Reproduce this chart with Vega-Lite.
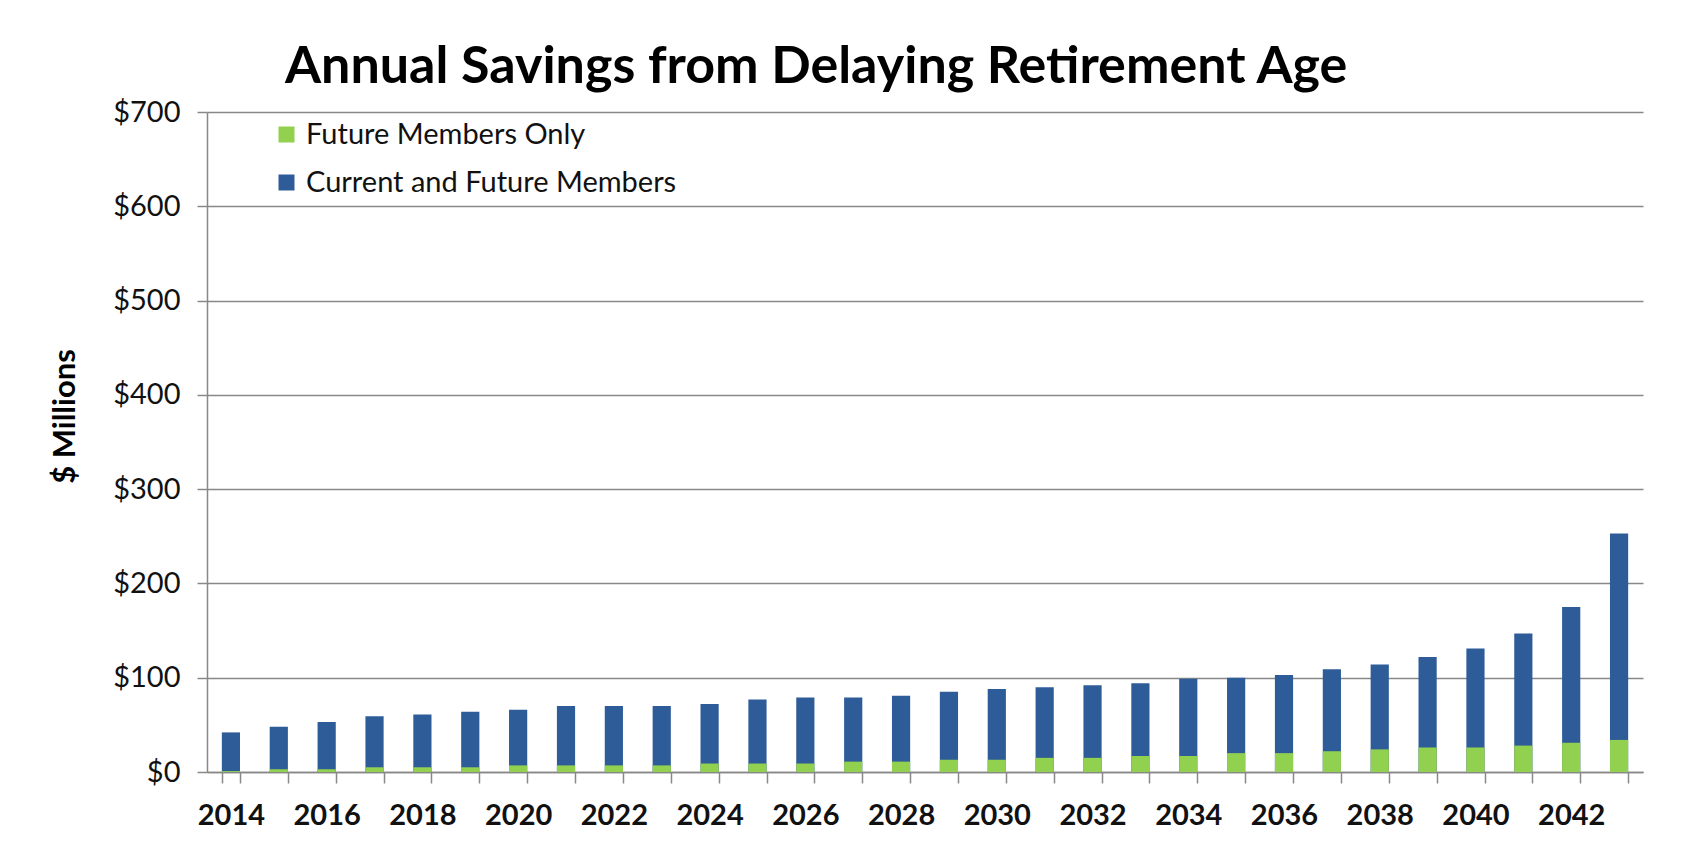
{
  "$schema": "https://vega.github.io/schema/vega-lite/v6.json",
  "description": "Annual Savings from Delaying Retirement Age",
  "autosize": {"type": "none"},
  "padding": {"left": 207, "top": 112, "right": 53, "bottom": 89},
  "width": 1436,
  "height": 660,
  "background": "white",
  "title": {
    "text": "Annual Savings from Delaying Retirement Age",
    "anchor": "start",
    "frame": "group",
    "dx": 78,
    "dy": 61,
    "offset": 24,
    "baseline": "alphabetic",
    "font": "Lato",
    "fontSize": 52,
    "fontWeight": "bold",
    "color": "#000000"
  },
  "config": {
    "view": {"stroke": null},
    "font": "Lato"
  },
  "data": {
    "values": [
      {"year": 2014, "series": "Current and Future Members", "value": 42},
      {"year": 2015, "series": "Current and Future Members", "value": 48},
      {"year": 2016, "series": "Current and Future Members", "value": 53},
      {"year": 2017, "series": "Current and Future Members", "value": 59},
      {"year": 2018, "series": "Current and Future Members", "value": 61},
      {"year": 2019, "series": "Current and Future Members", "value": 64},
      {"year": 2020, "series": "Current and Future Members", "value": 66},
      {"year": 2021, "series": "Current and Future Members", "value": 70},
      {"year": 2022, "series": "Current and Future Members", "value": 70},
      {"year": 2023, "series": "Current and Future Members", "value": 70},
      {"year": 2024, "series": "Current and Future Members", "value": 72},
      {"year": 2025, "series": "Current and Future Members", "value": 77},
      {"year": 2026, "series": "Current and Future Members", "value": 79},
      {"year": 2027, "series": "Current and Future Members", "value": 79},
      {"year": 2028, "series": "Current and Future Members", "value": 81},
      {"year": 2029, "series": "Current and Future Members", "value": 85},
      {"year": 2030, "series": "Current and Future Members", "value": 88},
      {"year": 2031, "series": "Current and Future Members", "value": 90},
      {"year": 2032, "series": "Current and Future Members", "value": 92},
      {"year": 2033, "series": "Current and Future Members", "value": 94},
      {"year": 2034, "series": "Current and Future Members", "value": 99},
      {"year": 2035, "series": "Current and Future Members", "value": 100},
      {"year": 2036, "series": "Current and Future Members", "value": 103},
      {"year": 2037, "series": "Current and Future Members", "value": 109},
      {"year": 2038, "series": "Current and Future Members", "value": 114},
      {"year": 2039, "series": "Current and Future Members", "value": 122},
      {"year": 2040, "series": "Current and Future Members", "value": 131},
      {"year": 2041, "series": "Current and Future Members", "value": 147},
      {"year": 2042, "series": "Current and Future Members", "value": 175},
      {"year": 2043, "series": "Current and Future Members", "value": 253},
      {"year": 2014, "series": "Future Members Only", "value": 1},
      {"year": 2015, "series": "Future Members Only", "value": 3},
      {"year": 2016, "series": "Future Members Only", "value": 3},
      {"year": 2017, "series": "Future Members Only", "value": 5},
      {"year": 2018, "series": "Future Members Only", "value": 5},
      {"year": 2019, "series": "Future Members Only", "value": 5},
      {"year": 2020, "series": "Future Members Only", "value": 7},
      {"year": 2021, "series": "Future Members Only", "value": 7},
      {"year": 2022, "series": "Future Members Only", "value": 7},
      {"year": 2023, "series": "Future Members Only", "value": 7},
      {"year": 2024, "series": "Future Members Only", "value": 9},
      {"year": 2025, "series": "Future Members Only", "value": 9},
      {"year": 2026, "series": "Future Members Only", "value": 9},
      {"year": 2027, "series": "Future Members Only", "value": 11},
      {"year": 2028, "series": "Future Members Only", "value": 11},
      {"year": 2029, "series": "Future Members Only", "value": 13},
      {"year": 2030, "series": "Future Members Only", "value": 13},
      {"year": 2031, "series": "Future Members Only", "value": 15},
      {"year": 2032, "series": "Future Members Only", "value": 15},
      {"year": 2033, "series": "Future Members Only", "value": 17},
      {"year": 2034, "series": "Future Members Only", "value": 17},
      {"year": 2035, "series": "Future Members Only", "value": 20},
      {"year": 2036, "series": "Future Members Only", "value": 20},
      {"year": 2037, "series": "Future Members Only", "value": 22},
      {"year": 2038, "series": "Future Members Only", "value": 24},
      {"year": 2039, "series": "Future Members Only", "value": 26},
      {"year": 2040, "series": "Future Members Only", "value": 26},
      {"year": 2041, "series": "Future Members Only", "value": 28},
      {"year": 2042, "series": "Future Members Only", "value": 31},
      {"year": 2043, "series": "Future Members Only", "value": 34}
    ]
  },
  "mark": {"type": "bar"},
  "encoding": {
    "x": {
      "field": "year",
      "type": "ordinal",
      "scale": {"paddingInner": 0.62, "paddingOuter": 0.31},
      "axis": {
        "title": null,
        "tickBand": "extent",
        "labelAngle": 0,
        "labelExpr": "datum.value % 2 == 0 ? datum.label : ''",
        "labelFont": "Lato",
        "labelFontSize": 29,
        "labelFontWeight": "bold",
        "labelColor": "#111111",
        "labelPadding": 18,
        "tickSize": 11,
        "tickColor": "#888888",
        "tickWidth": 1.5,
        "domainColor": "#888888",
        "domainWidth": 1.5
      }
    },
    "y": {
      "field": "value",
      "type": "quantitative",
      "stack": null,
      "scale": {"domain": [0, 700], "nice": false},
      "axis": {
        "title": "$ Millions",
        "titleFont": "Lato",
        "titleFontSize": 31,
        "titleFontWeight": "bold",
        "titleColor": "#000000",
        "titleAngle": -90,
        "titleX": -142,
        "titleY": 304,
        "titleAlign": "center",
        "titleBaseline": "middle",
        "values": [0, 100, 200, 300, 400, 500, 600, 700],
        "labelExpr": "'$' + datum.value",
        "labelFont": "Lato",
        "labelFontSize": 29,
        "labelColor": "#111111",
        "labelPadding": 17,
        "tickSize": 10,
        "tickColor": "#888888",
        "tickWidth": 1.5,
        "domainColor": "#888888",
        "domainWidth": 1.5,
        "grid": true,
        "gridColor": "#888888",
        "gridWidth": 1.5
      }
    },
    "color": {
      "field": "series",
      "type": "nominal",
      "scale": {
        "domain": ["Future Members Only", "Current and Future Members"],
        "range": ["#92D050", "#2E5C98"]
      },
      "legend": {
        "title": null,
        "orient": "none",
        "legendX": 65,
        "legendY": 8,
        "direction": "vertical",
        "symbolType": "square",
        "symbolSize": 256,
        "symbolStrokeWidth": 0,
        "labelFont": "Lato",
        "labelFontSize": 29,
        "labelLimit": 0,
        "labelColor": "#111111",
        "labelOffset": 5,
        "rowPadding": 18
      }
    },
    "order": {"field": "series", "sort": "ascending"}
  }
}
